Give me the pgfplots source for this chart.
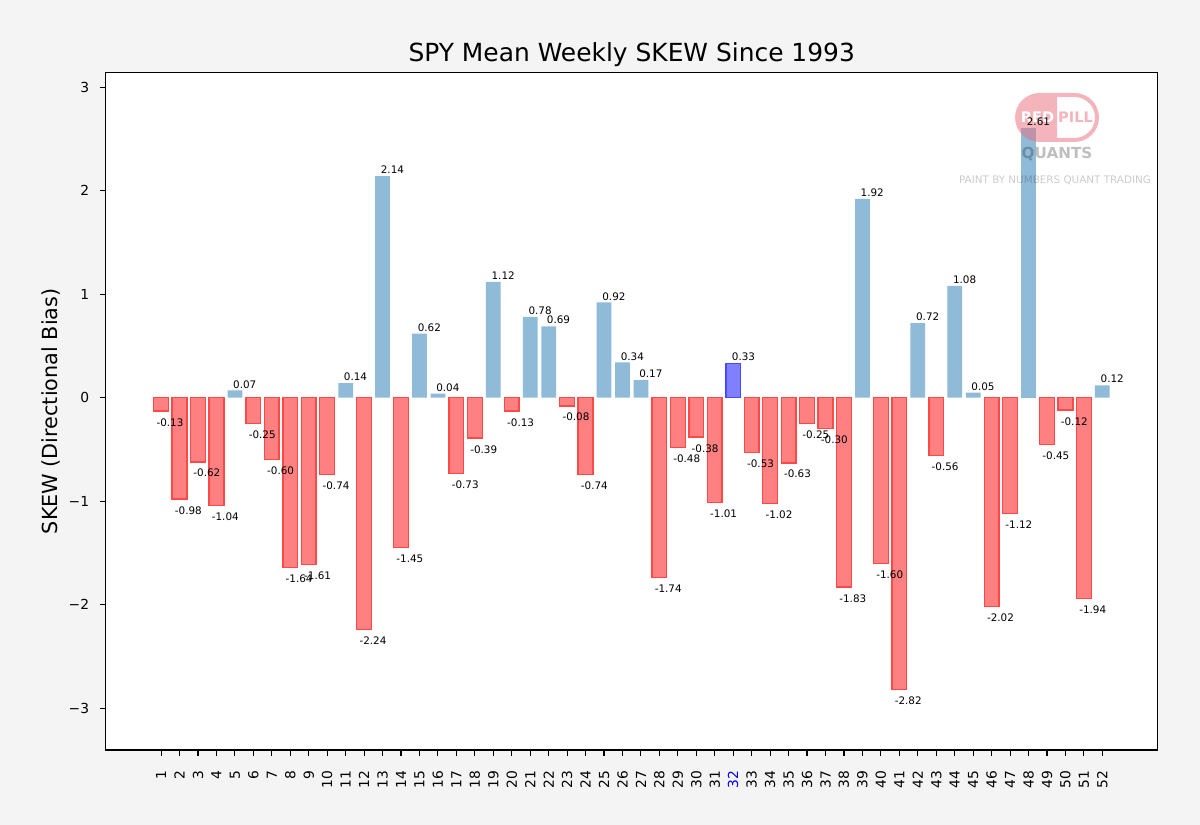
\documentclass[border=0pt]{standalone}
\usepackage{fontspec}
\setmainfont{DejaVu Sans}
\usepackage{pgfplots}
\pgfplotsset{compat=1.18}
\definecolor{figbg}{RGB}{244,244,244}
\definecolor{posfill}{RGB}{143,187,217}
\definecolor{negfill}{RGB}{255,128,128}
\definecolor{negedge}{RGB}{255,72,72}
\definecolor{hlfill}{RGB}{128,128,255}
\definecolor{hledge}{RGB}{72,72,255}
\definecolor{pillpink}{RGB}{233,109,121}
\newcommand{\barlabel}{\pgfmathprintnumber[fixed,fixed zerofill,precision=2,assume math mode=true]{\pgfplotspointmeta}}
\begin{document}
\begin{tikzpicture}
\fill[figbg] (0,0) rectangle (12in,8.25in);
\useasboundingbox (0,0) rectangle (12in,8.25in);
\begin{axis}[
  at={(1.057in,0.75in)}, anchor=south west,
  scale only axis, width=10.52in, height=6.773in,
  xmin=-2, xmax=55, ymin=-3.404, ymax=3.14,
  axis background/.style={fill=white},
  axis line style={line width=0.8pt, black},
  every tick/.style={black, line width=0.8pt},
  major tick length=4.2pt,
  tick align=outside,
  tick pos=left,
  xtick={1,...,52},
  xticklabels={1,2,3,4,5,6,7,8,9,10,11,12,13,14,15,16,17,18,19,20,21,22,23,24,25,26,27,28,29,30,31,{\color{blue}32},33,34,35,36,37,38,39,40,41,42,43,44,45,46,47,48,49,50,51,52},
  xticklabel shift=10.5pt,
  x tick label style={rotate=90, anchor=east, inner sep=0pt, font=\fontsize{10}{12}\selectfont},
  ytick={-3,-2,-1,0,1,2,3},
  yticklabels={−3,−2,−1,0,1,2,3},
  y tick label style={anchor=east, inner sep=0pt, xshift=-7.6pt, font=\fontsize{10}{12}\selectfont},
]
% negative weeks
\addplot[ybar, bar width=0.8, bar shift=0pt, fill=negfill, draw=negedge, line width=1pt,
  nodes near coords=\barlabel,
  every node near coord/.append style={anchor=north west, inner sep=0pt, xshift=-3.8pt, yshift=-4.8pt, text=black, font=\fontsize{7.5}{9}\selectfont}]
coordinates {(1,-0.13)(2,-0.98)(3,-0.62)(4,-1.04)(6,-0.25)(7,-0.60)(8,-1.64)(9,-1.61)(10,-0.74)(12,-2.24)(14,-1.45)(17,-0.73)(18,-0.39)(20,-0.13)(23,-0.08)(24,-0.74)(28,-1.74)(29,-0.48)(30,-0.38)(31,-1.01)(33,-0.53)(34,-1.02)(35,-0.63)(36,-0.25)(37,-0.30)(38,-1.83)(40,-1.60)(41,-2.82)(43,-0.56)(46,-2.02)(47,-1.12)(49,-0.45)(50,-0.12)(51,-1.94)};
% positive weeks
\addplot[ybar, bar width=0.8, bar shift=0pt, fill=posfill, draw=none,
  nodes near coords=\barlabel,
  every node near coord/.append style={anchor=south west, inner sep=0pt, xshift=-1.4pt, yshift=1.4pt, text=black, font=\fontsize{7.5}{9}\selectfont}]
coordinates {(5,0.07)(11,0.14)(13,2.14)(15,0.62)(16,0.04)(19,1.12)(21,0.78)(22,0.69)(25,0.92)(26,0.34)(27,0.17)(39,1.92)(42,0.72)(44,1.08)(45,0.05)(52,0.12)};
% current week
\addplot[ybar, bar width=0.8, bar shift=0pt, fill=hlfill, draw=hledge, line width=1pt,
  nodes near coords=\barlabel,
  every node near coord/.append style={anchor=south west, inner sep=0pt, xshift=-1.4pt, yshift=1.4pt, text=black, font=\fontsize{7.5}{9}\selectfont}]
coordinates {(32,0.33)};
% week 48 bar (label drawn after watermark)
\addplot[ybar, bar width=0.8, bar shift=0pt, fill=posfill, draw=none]
coordinates {(48,2.61)};
% watermark
\pgfplotsextra{
\begin{scope}[shift={(rel axis cs:0.9043,0.9339)}, x=0.01in, y=0.01in]
  \fill[pillpink, opacity=0.5, even odd rule]
    (-17.5,24.5) -- (17.5,24.5) arc[start angle=90,end angle=-90,radius=24.5] -- (-17.5,-24.5) arc[start angle=270,end angle=90,radius=24.5] -- cycle
    (0,20.5) -- (17.5,20.5) arc[start angle=90,end angle=-90,radius=20.5] -- (0,-20.5) -- cycle;
  \node[text=white, inner sep=0pt, font=\fontsize{10.5}{12}\selectfont\bfseries] at (-19.5,0) {RED};
  \node[text=pillpink, text opacity=0.5, inner sep=0pt, font=\fontsize{10.5}{12}\selectfont\bfseries] at (18.5,0) {PILL};
  \node[text=black, text opacity=0.25, inner sep=0pt, font=\fontsize{11}{13}\selectfont\bfseries] at (0,-36.5) {QUANTS};
  \node[text=black, text opacity=0.2, inner sep=0pt, font=\fontsize{7.5}{9}\selectfont] at (-2,-63) {PAINT BY NUMBERS QUANT TRADING};
\end{scope}
}
\addplot[ybar, bar width=0.8, bar shift=0pt, fill=none, draw=none,
  nodes near coords=\barlabel,
  every node near coord/.append style={anchor=south west, inner sep=0pt, xshift=-1.4pt, yshift=1.4pt, text=black, font=\fontsize{7.5}{9}\selectfont}]
coordinates {(48,2.61)};
\end{axis}
\node[anchor=base, inner sep=0pt, font=\fontsize{18}{22}\selectfont] at (6.317in,7.633in) {SPY Mean Weekly SKEW Since 1993};
\node[anchor=base, rotate=90, inner sep=0pt, font=\fontsize{15}{18}\selectfont] at (0.575in,4.1365in) {SKEW (Directional Bias)};
\end{tikzpicture}
\end{document}
